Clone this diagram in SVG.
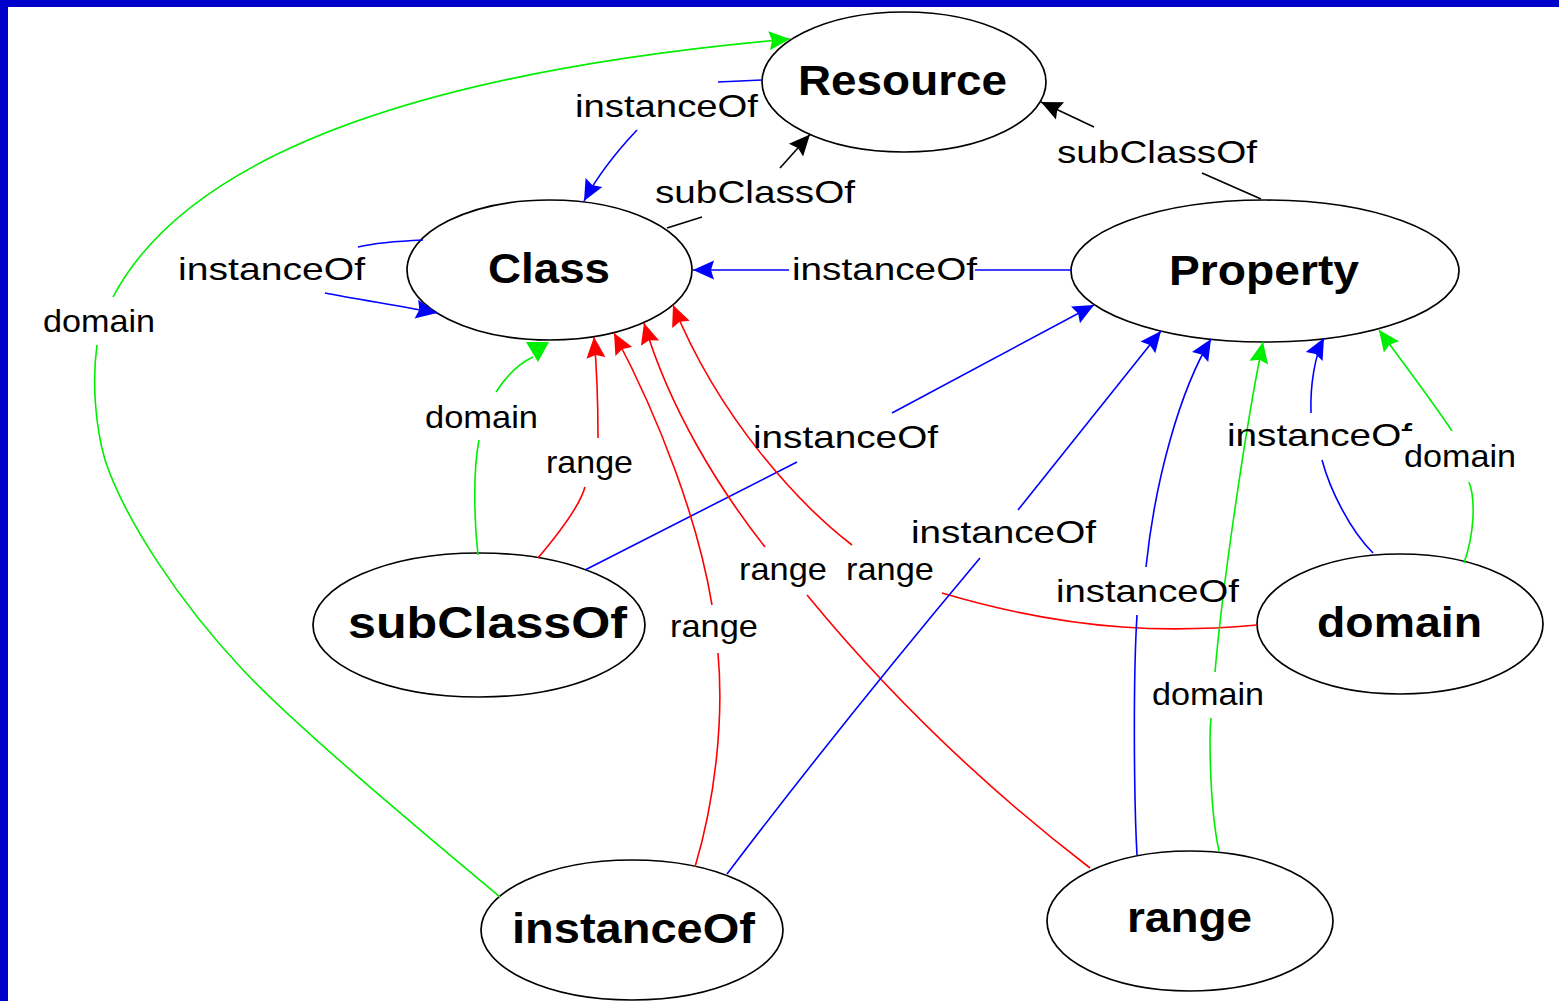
<svg xmlns="http://www.w3.org/2000/svg" width="1559" height="1001" viewBox="0 0 1559 1001">
  <style>
    .node ellipse { fill: #ffffff; stroke: #000000; stroke-width: 1.7; }
    .node text { font-family: "Liberation Sans", Arial, sans-serif; font-weight: bold; font-size: 42px; fill: #000000; }
    .edge { fill: none; stroke-width: 1.6; }
    .blue { stroke: #0000ff; }
    .red { stroke: #ff0000; }
    .green { stroke: #00ee00; }
    .black { stroke: #000000; }
    .lbl { font-family: "Liberation Sans", Arial, sans-serif; font-size: 32px; fill: #000000; }
  </style>
  <defs>
    <marker id="ah-blue" markerUnits="userSpaceOnUse" viewBox="-23 -11 25 22" refX="0" refY="0" markerWidth="25" markerHeight="22" orient="auto">
      <path d="M0,0 L-21,-9.5 L-18,0 L-21,9.5 Z" fill="#0000ff"/>
    </marker>
    <marker id="ah-red" markerUnits="userSpaceOnUse" viewBox="-23 -11 25 22" refX="0" refY="0" markerWidth="25" markerHeight="22" orient="auto">
      <path d="M0,0 L-21,-9.5 L-18,0 L-21,9.5 Z" fill="#ff0000"/>
    </marker>
    <marker id="ah-green" markerUnits="userSpaceOnUse" viewBox="-23 -11 25 22" refX="0" refY="0" markerWidth="25" markerHeight="22" orient="auto">
      <path d="M0,0 L-21,-9.5 L-18,0 L-21,9.5 Z" fill="#00ee00"/>
    </marker>
    <marker id="ah-black" markerUnits="userSpaceOnUse" viewBox="-23 -11 25 22" refX="0" refY="0" markerWidth="25" markerHeight="22" orient="auto">
      <path d="M0,0 L-21,-9.5 L-18,0 L-21,9.5 Z" fill="#000000"/>
    </marker>
  </defs>

  <!-- page background and frame -->
  <rect x="0" y="0" width="1559" height="1001" fill="#ffffff"/>
  <rect x="0" y="0" width="1559" height="7" fill="#0000cc"/>
  <rect x="0" y="0" width="8" height="1001" fill="#0000cc"/>

  <!-- nodes -->
  <g id="node-resource" class="node">
    <ellipse cx="904" cy="82" rx="142" ry="70"/>
    <text x="798" y="95" textLength="209" lengthAdjust="spacingAndGlyphs">Resource</text>
  </g>
  <g id="node-class" class="node">
    <ellipse cx="549.5" cy="270" rx="142.5" ry="70"/>
    <text x="488" y="283" textLength="122" lengthAdjust="spacingAndGlyphs">Class</text>
  </g>
  <g id="node-property" class="node">
    <ellipse cx="1265" cy="271" rx="194" ry="71"/>
    <text x="1169" y="285" textLength="190" lengthAdjust="spacingAndGlyphs">Property</text>
  </g>
  <g id="node-subclassof" class="node">
    <ellipse cx="479" cy="625" rx="166" ry="72"/>
    <text x="348" y="638" textLength="279" lengthAdjust="spacingAndGlyphs" style="font-size:44px">subClassOf</text>
  </g>
  <g id="node-domain" class="node">
    <ellipse cx="1400" cy="624" rx="143" ry="70"/>
    <text x="1317" y="637" textLength="165" lengthAdjust="spacingAndGlyphs">domain</text>
  </g>
  <g id="node-instanceof" class="node">
    <ellipse cx="632" cy="930" rx="151" ry="70"/>
    <text x="512" y="943" textLength="243" lengthAdjust="spacingAndGlyphs">instanceOf</text>
  </g>
  <g id="node-range" class="node">
    <ellipse cx="1190" cy="921" rx="143" ry="70"/>
    <text x="1127" y="932" textLength="125" lengthAdjust="spacingAndGlyphs">range</text>
  </g>

  <!-- connectors: each edge runs source -> label gap -> target -->
  <g id="connectors">
    <!-- Resource instanceOf Class -->
    <path class="edge blue" d="M762,80 L718,82"/>
    <path class="edge blue" d="M637,130 C620,148 598,175 584,201" marker-end="url(#ah-blue)"/>
    <!-- Class subClassOf Resource -->
    <path class="edge black" d="M667,228 L702,217"/>
    <path class="edge black" d="M780,168 L810,134.5" marker-end="url(#ah-black)"/>
    <!-- Property subClassOf Resource -->
    <path class="edge black" d="M1261,199 L1202,173"/>
    <path class="edge black" d="M1094,127 L1041,102" marker-end="url(#ah-black)"/>
    <!-- Class instanceOf Class -->
    <path class="edge blue" d="M423,240 C400,241 375,243 358,247"/>
    <path class="edge blue" d="M325,293 C350,298 400,306 437,313" marker-end="url(#ah-blue)"/>
    <!-- instanceOf domain Resource -->
    <path class="edge green" d="M500,897 C420,830 300,730 243,670 C180,603 125,520 105,460 C95,425 92,380 97,345"/>
    <path class="edge green" d="M113,297 C180,170 380,75 790,39" marker-end="url(#ah-green)"/>
    <!-- Property instanceOf Class -->
    <path class="edge blue" d="M1071,270 L975,270"/>
    <path class="edge blue" d="M789,270 L693,270" marker-end="url(#ah-blue)"/>
    <!-- subClassOf domain Class -->
    <path class="edge green" d="M478,555 C474,520 473,470 479,440"/>
    <path class="edge green" d="M496,392 C505,378 518,364 533,357"/>
    <polygon points="526,342 549,342 538,362" fill="#00ee00"/>
    <!-- subClassOf range Class -->
    <path class="edge red" d="M538,558 C560,532 580,505 585,487"/>
    <path class="edge red" d="M598,438 C598,400 597,370 594,337" marker-end="url(#ah-red)"/>
    <!-- subClassOf instanceOf Property -->
    <path class="edge blue" d="M585,570 L797,462"/>
    <path class="edge blue" d="M892,413 L1094,305" marker-end="url(#ah-blue)"/>
    <!-- instanceOf range Class -->
    <path class="edge red" d="M695,867 C715,800 724,720 718,653"/>
    <path class="edge red" d="M712,605 C698,520 660,420 614,333" marker-end="url(#ah-red)"/>
    <!-- range range Class -->
    <path class="edge red" d="M1090,868 Q930,745 807,595"/>
    <path class="edge red" d="M765,547 C720,490 670,410 644,323" marker-end="url(#ah-red)"/>
    <!-- domain range Class -->
    <path class="edge red" d="M1257,625 C1180,632 1080,634 942,593"/>
    <path class="edge red" d="M852,545 C800,505 720,420 673,305" marker-end="url(#ah-red)"/>
    <!-- instanceOf instanceOf Property -->
    <path class="edge blue" d="M727,874 Q840,725 980,558"/>
    <path class="edge blue" d="M1018,510 L1161,331" marker-end="url(#ah-blue)"/>
    <!-- range instanceOf Property -->
    <path class="edge blue" d="M1137,855 C1134,800 1133,680 1137,615"/>
    <path class="edge blue" d="M1146,567 C1155,480 1180,390 1211,339" marker-end="url(#ah-blue)"/>
    <!-- range domain Property -->
    <path class="edge green" d="M1219,851 C1210,810 1209,740 1211,718"/>
    <path class="edge green" d="M1215,672 C1222,590 1245,430 1263,342" marker-end="url(#ah-green)"/>
    <!-- domain instanceOf Property -->
    <path class="edge blue" d="M1373,553 C1350,530 1330,490 1322,460"/>
    <path class="edge blue" d="M1311,413 C1310,385 1315,355 1324,338" marker-end="url(#ah-blue)"/>
    <!-- domain domain Property -->
    <path class="edge green" d="M1464,563 C1474,535 1476,500 1469,482"/>
    <path class="edge green" d="M1452,431 C1435,405 1405,365 1379,330" marker-end="url(#ah-green)"/>

    <!-- edge labels -->
    <g id="edge-labels">
      <text class="lbl" x="575" y="117" textLength="183" lengthAdjust="spacingAndGlyphs">instanceOf</text>
      <text class="lbl" x="655" y="203" textLength="200" lengthAdjust="spacingAndGlyphs">subClassOf</text>
      <text class="lbl" x="1057" y="163" textLength="200" lengthAdjust="spacingAndGlyphs">subClassOf</text>
      <text class="lbl" x="178" y="280" textLength="187" lengthAdjust="spacingAndGlyphs">instanceOf</text>
      <text class="lbl" x="43" y="332" textLength="112" lengthAdjust="spacingAndGlyphs">domain</text>
      <text class="lbl" x="792" y="280" textLength="185" lengthAdjust="spacingAndGlyphs">instanceOf</text>
      <text class="lbl" x="425" y="428" textLength="113" lengthAdjust="spacingAndGlyphs">domain</text>
      <text class="lbl" x="546" y="473" textLength="87" lengthAdjust="spacingAndGlyphs">range</text>
      <text class="lbl" x="753" y="448" textLength="185" lengthAdjust="spacingAndGlyphs">instanceOf</text>
      <text class="lbl" x="670" y="637" textLength="88" lengthAdjust="spacingAndGlyphs">range</text>
      <text class="lbl" x="739" y="580" textLength="88" lengthAdjust="spacingAndGlyphs">range</text>
      <text class="lbl" x="846" y="580" textLength="88" lengthAdjust="spacingAndGlyphs">range</text>
      <text class="lbl" x="911" y="543" textLength="185" lengthAdjust="spacingAndGlyphs">instanceOf</text>
      <text class="lbl" x="1056" y="602" textLength="183" lengthAdjust="spacingAndGlyphs">instanceOf</text>
      <text class="lbl" x="1152" y="705" textLength="112" lengthAdjust="spacingAndGlyphs">domain</text>
      <text class="lbl" x="1227" y="446" textLength="185" lengthAdjust="spacingAndGlyphs">instanceOf</text>
      <rect x="1400" y="431" width="120" height="44" fill="#ffffff"/>
      <text class="lbl" x="1404" y="467" textLength="112" lengthAdjust="spacingAndGlyphs">domain</text>
    </g>
  </g>
</svg>
